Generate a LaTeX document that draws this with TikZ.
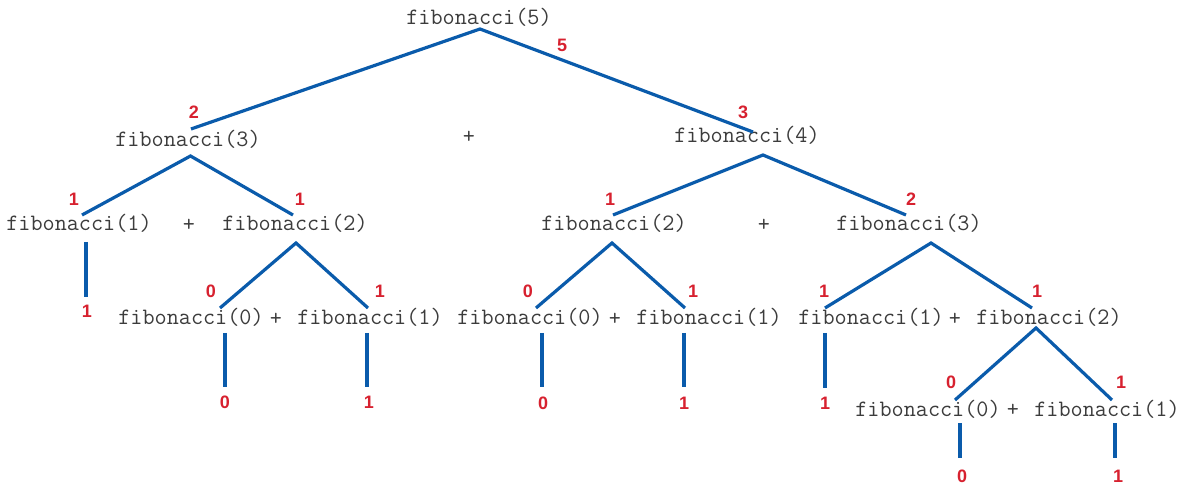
\documentclass[tikz,border=0pt]{standalone}
\usepackage{fontspec}
\newfontfamily\numfont{Liberation Sans}
\definecolor{linkblue}{HTML}{0A5BAB}
\definecolor{valred}{HTML}{D7212F}
\definecolor{txtgray}{HTML}{3C3C3C}
\tikzset{
  call/.style={anchor=base, inner sep=0pt, text=txtgray, font=\ttfamily\fontsize{23.5}{26}\selectfont},
  plus/.style={anchor=center, inner sep=0pt, text=txtgray, font=\ttfamily\fontsize{23.5}{26}\selectfont},
  val/.style={anchor=center, inner sep=0pt, text=valred, font=\numfont\bfseries\fontsize{18}{20}\selectfont},
  link/.style={draw=linkblue, line width=3.2pt}
}
\begin{document}
\begin{tikzpicture}[x=1pt,y=-1pt]
\useasboundingbox (0,0) rectangle (1192,486);
% calls
\node[call] (t5) at (479,25) {fibonacci(5)};
\node[call] (t3a) at (188,147) {fibonacci(3)};
\node[plus] (p0) at (469,137) {+};
\node[call] (t4) at (747,143) {fibonacci(4)};
\node[call] (t1a) at (79,231) {fibonacci(1)};
\node[plus] (p1) at (189,225) {+};
\node[call] (t2a) at (295,231) {fibonacci(2)};
\node[call] (t2b) at (614,231) {fibonacci(2)};
\node[plus] (p2) at (764,225) {+};
\node[call] (t3b) at (909,231) {fibonacci(3)};
\node[call] (t0a) at (191,325) {fibonacci(0)};
\node[plus] (p3) at (276,319) {+};
\node[call] (t1b) at (370,325) {fibonacci(1)};
\node[call] (t0b) at (530,325) {fibonacci(0)};
\node[plus] (p4) at (615,319) {+};
\node[call] (t1c) at (709,325) {fibonacci(1)};
\node[call] (t1d) at (871,325) {fibonacci(1)};
\node[plus] (p5) at (955,319) {+};
\node[call] (t2c) at (1049,325) {fibonacci(2)};
\node[call] (t0c) at (928,416) {fibonacci(0)};
\node[plus] (p6) at (1013,410) {+};
\node[call] (t1e) at (1107,416) {fibonacci(1)};
% connector points
\coordinate (a5) at (480,29);
\coordinate (e3a) at (191,129);
\coordinate (e4) at (753,132);
\coordinate (a3a) at (190.5,156);
\coordinate (e1a) at (82,215);
\coordinate (e2a) at (293,215);
\coordinate (a1a) at (86,242);
\coordinate (r1a) at (86,297);
\coordinate (a2a) at (296,243);
\coordinate (e0a) at (220,308);
\coordinate (e1b) at (368,308);
\coordinate (a0a) at (225,333);
\coordinate (r0a) at (225,387);
\coordinate (a1b) at (367,333);
\coordinate (r1b) at (367,387);
\coordinate (a4) at (763,155);
\coordinate (e2b) at (613,215);
\coordinate (e3b) at (906,215);
\coordinate (a2b) at (612,243);
\coordinate (e0b) at (536,308);
\coordinate (e1c) at (685,308);
\coordinate (a0b) at (542,333);
\coordinate (r0b) at (542,387);
\coordinate (a1c) at (684,333);
\coordinate (r1c) at (684,387);
\coordinate (a3b) at (931,243);
\coordinate (e1d) at (825,308);
\coordinate (e2c) at (1032,308);
\coordinate (a1d) at (825,333);
\coordinate (r1d) at (825,388);
\coordinate (a2c) at (1036,328);
\coordinate (e0c) at (955,400);
\coordinate (e1e) at (1112,400);
\coordinate (a0c) at (960,423);
\coordinate (r0c) at (960,458);
\coordinate (a1e) at (1115,423);
\coordinate (r1e) at (1115,458);
% connectors
\draw[link] (e3a) -- (a5) -- (e4);
\draw[link] (e1a) -- (a3a) -- (e2a);
\draw[link] (a1a) -- (r1a);
\draw[link] (e0a) -- (a2a) -- (e1b);
\draw[link] (a0a) -- (r0a);
\draw[link] (a1b) -- (r1b);
\draw[link] (e2b) -- (a4) -- (e3b);
\draw[link] (e0b) -- (a2b) -- (e1c);
\draw[link] (a0b) -- (r0b);
\draw[link] (a1c) -- (r1c);
\draw[link] (e1d) -- (a3b) -- (e2c);
\draw[link] (a1d) -- (r1d);
\draw[link] (e0c) -- (a2c) -- (e1e);
\draw[link] (a0c) -- (r0c);
\draw[link] (a1e) -- (r1e);
% values
\node[val] (v5) at (562,45) {5};
\node[val] (v3a) at (194,112) {2};
\node[val] (v4) at (743,112) {3};
\node[val] (v1a) at (74,199) {1};
\node[val] (v2a) at (300,199) {1};
\node[val] (v2b) at (610,199) {1};
\node[val] (v3b) at (911,199) {2};
\node[val] (v0a) at (211,291) {0};
\node[val] (v1b) at (380,291) {1};
\node[val] (v0b) at (528,291) {0};
\node[val] (v1c) at (693,291) {1};
\node[val] (v1d) at (824,291) {1};
\node[val] (v2c) at (1037,291) {1};
\node[val] (v0c) at (951,382) {0};
\node[val] (v1e) at (1121,382) {1};
\node[val] (w1a) at (87,311) {1};
\node[val] (w0a) at (225,402) {0};
\node[val] (w1b) at (369,402) {1};
\node[val] (w0b) at (543,403) {0};
\node[val] (w1c) at (684,403) {1};
\node[val] (w1d) at (825,403) {1};
\node[val] (w0c) at (962,476) {0};
\node[val] (w1e) at (1118,476) {1};
\end{tikzpicture}
\end{document}
